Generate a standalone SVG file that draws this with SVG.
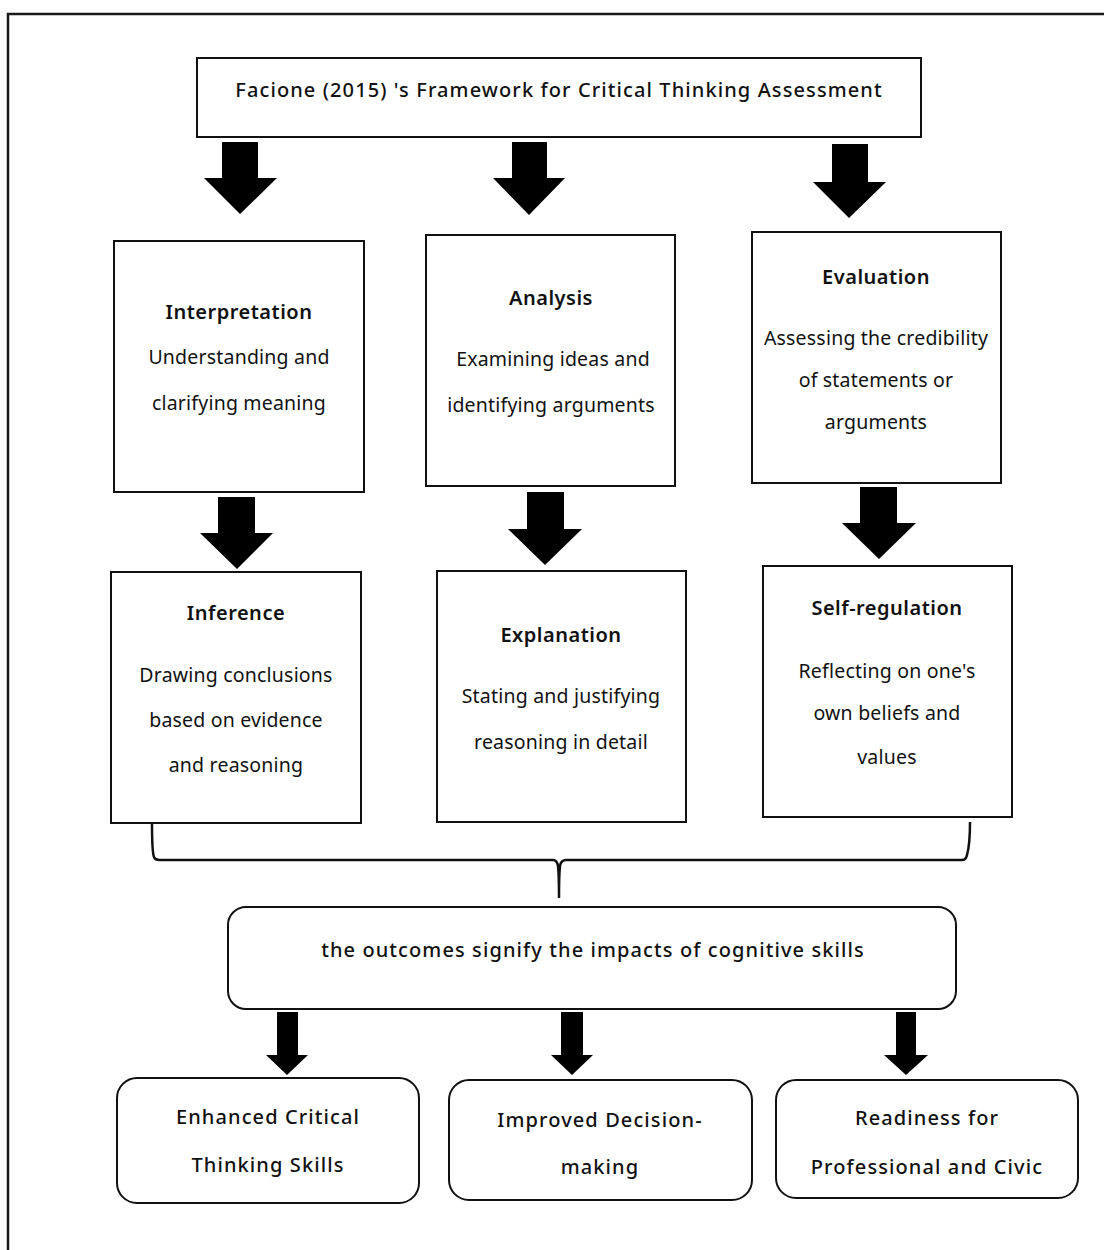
<svg xmlns="http://www.w3.org/2000/svg" width="1104" height="1250" viewBox="0 0 1104 1250">
<style>
  .box{fill:#fff;stroke:#111;stroke-width:2}
  .t{font-family:"Noto Sans","Open Sans","DejaVu Sans",sans-serif;font-size:20px;fill:#111;text-anchor:middle}
  .b{font-weight:500;letter-spacing:1.1px}
  .h{font-weight:600;letter-spacing:0.5px}
  .r{font-weight:400;font-size:19.5px;letter-spacing:0.2px}
  .arr{fill:#000}
  .brace{fill:none;stroke:#111;stroke-width:2.5}
</style>
<rect width="1104" height="1250" fill="#fff"/>
<path d="M8,1250 V14 H1104" fill="none" stroke="#1a1a1a" stroke-width="2.5"/>

<g id="title">
  <rect class="box" x="197" y="58" width="724" height="79"/>
  <text class="t b" x="559" y="97">Facione (2015) 's Framework for Critical Thinking Assessment</text>
</g>

<g id="interpretation">
  <rect class="box" x="114" y="241" width="250" height="251"/>
  <text class="t h" x="239" y="319">Interpretation</text>
  <text class="t r" x="239" y="364">Understanding and</text>
  <text class="t r" x="239" y="410">clarifying meaning</text>
</g>
<g id="analysis">
  <rect class="box" x="426" y="235" width="249" height="251"/>
  <text class="t h" x="551" y="305">Analysis</text>
  <text class="t r" x="553" y="366">Examining ideas and</text>
  <text class="t r" x="551" y="412">identifying arguments</text>
</g>
<g id="evaluation">
  <rect class="box" x="752" y="232" width="249" height="251"/>
  <text class="t h" x="876" y="284">Evaluation</text>
  <text class="t r" x="876" y="345">Assessing the credibility</text>
  <text class="t r" x="876" y="387">of statements or</text>
  <text class="t r" x="876" y="429">arguments</text>
</g>
<g id="inference">
  <rect class="box" x="111" y="572" width="250" height="251"/>
  <text class="t h" x="236" y="620">Inference</text>
  <text class="t r" x="236" y="682">Drawing conclusions</text>
  <text class="t r" x="236" y="727">based on evidence</text>
  <text class="t r" x="236" y="772">and reasoning</text>
</g>
<g id="explanation">
  <rect class="box" x="437" y="571" width="249" height="251"/>
  <text class="t h" x="561" y="642">Explanation</text>
  <text class="t r" x="561" y="703">Stating and justifying</text>
  <text class="t r" x="561" y="749">reasoning in detail</text>
</g>
<g id="self-regulation">
  <rect class="box" x="763" y="566" width="249" height="251"/>
  <text class="t h" x="887" y="615">Self-regulation</text>
  <text class="t r" x="887" y="678">Reflecting on one's</text>
  <text class="t r" x="887" y="720">own beliefs and</text>
  <text class="t r" x="887" y="764">values</text>
</g>

<g id="outcomes">
  <rect class="box" x="228" y="907" width="728" height="102" rx="18"/>
  <text class="t b" x="593" y="957">the outcomes signify the impacts of cognitive skills</text>
</g>
<g id="enhanced">
  <rect class="box" x="117" y="1078" width="302" height="125" rx="20"/>
  <text class="t b" x="268" y="1124">Enhanced Critical</text>
  <text class="t b" x="268" y="1172">Thinking Skills</text>
</g>
<g id="improved">
  <rect class="box" x="449" y="1080" width="303" height="120" rx="20"/>
  <text class="t b" x="600" y="1127">Improved Decision-</text>
  <text class="t b" x="600" y="1174">making</text>
</g>
<g id="readiness">
  <rect class="box" x="776" y="1080" width="302" height="118" rx="20"/>
  <text class="t b" x="927" y="1125">Readiness for</text>
  <text class="t b" x="927" y="1174">Professional and Civic</text>
</g>

<g id="connectors">
  <polygon class="arr" points="222,142 258,142 258,178 277,178 240,214 204,178 222,178"/>
  <polygon class="arr" points="512,142 547,142 547,178 565,178 529,215 493,178 512,178"/>
  <polygon class="arr" points="832,144 868,144 868,182 886,182 849,218 813,182 832,182"/>
  <polygon class="arr" points="218,497 255,497 255,533 273,533 237,569 200,533 218,533"/>
  <polygon class="arr" points="527,492 564,492 564,529 582,529 545,565 508,529 527,529"/>
  <polygon class="arr" points="860,487 897,487 897,523 916,523 879,559 842,523 860,523"/>
  <polygon class="arr" points="277,1012 298,1012 298,1055 308,1055 287,1075 266,1055 277,1055"/>
  <polygon class="arr" points="561,1012 583,1012 583,1055 593,1055 572,1075 551,1055 561,1055"/>
  <polygon class="arr" points="896,1012 916,1012 916,1055 928,1055 906,1075 884,1055 896,1055"/>
  <path class="brace" d="M152,823 C152,840 152,852 154,857 Q155,860 160,860 H553 Q557,860 558,866 C559,875 559,888 559,898 C559,888 559,875 560,866 Q561,860 566,860 H962 Q966,860 967,855 C969,848 970,835 970,822"/>
</g>
</svg>
